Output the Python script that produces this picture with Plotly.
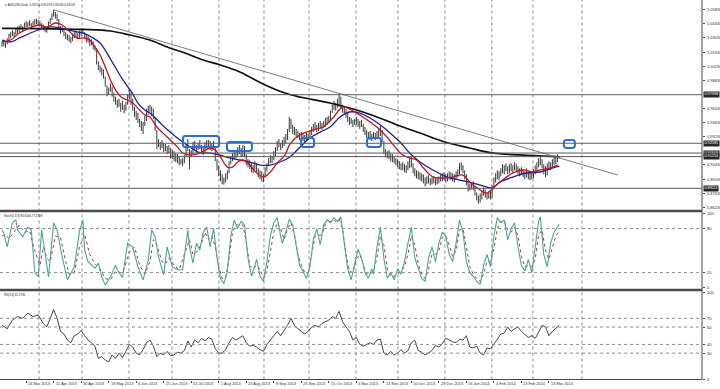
import plotly.graph_objects as go

# ---------------- data ----------------
highs = [
 1.0270,1.0285,1.0260,1.0300,1.0345,1.0360,1.0380,1.0365,1.0400,1.0415,
 1.0425,1.0440,1.0420,1.0455,1.0470,1.0460,1.0480,1.0450,1.0470,1.0490,
 1.0495,1.0480,1.0475,1.0450,1.0435,1.0420,1.0410,1.0465,1.0500,1.0545,
 1.0582,1.0560,1.0540,1.0490,1.0420,1.0420,1.0400,1.0360,1.0340,1.0330,
 1.0310,1.0345,1.0360,1.0370,1.0350,1.0375,1.0395,1.0400,1.0360,1.0340,
 1.0320,1.0300,1.0290,1.0270,1.0230,1.0200,1.0070,1.0030,1.0010,0.9990,
 0.9920,0.9830,0.9810,0.9850,0.9820,0.9760,0.9720,0.9690,0.9700,0.9660,
 0.9680,0.9640,0.9670,0.9740,0.9790,0.9760,0.9700,0.9620,0.9580,0.9560,
 0.9500,0.9480,0.9470,0.9530,0.9600,0.9630,0.9640,0.9620,0.9600,0.9520,
 0.9390,0.9300,0.9270,0.9290,0.9260,0.9250,0.9230,0.9240,0.9210,0.9190,
 0.9180,0.9160,0.9150,0.9120,0.9100,0.9110,0.9140,0.9240,0.9300,0.9200,
 0.9190,0.9270,0.9280,0.9240,0.9260,0.9290,0.9240,0.9220,0.9270,0.9290,
 0.9290,0.9280,0.9260,0.9280,0.9220,0.9100,0.9040,0.8990,0.8950,0.8920,
 0.8960,0.8990,0.9080,0.9130,0.9160,0.9170,0.9190,0.9220,0.9240,0.9210,
 0.9240,0.9230,0.9150,0.9100,0.9090,0.9060,0.9040,0.9080,0.9060,0.9010,
 0.8990,0.8980,0.8950,0.9020,0.9060,0.9110,0.9140,0.9130,0.9180,0.9220,
 0.9280,0.9300,0.9260,0.9290,0.9320,0.9350,0.9400,0.9520,0.9500,0.9440,
 0.9420,0.9400,0.9380,0.9360,0.9370,0.9350,0.9340,0.9360,0.9350,0.9390,
 0.9420,0.9450,0.9470,0.9440,0.9460,0.9480,0.9460,0.9480,0.9510,0.9520,
 0.9530,0.9580,0.9640,0.9680,0.9660,0.9700,0.9757,0.9720,0.9640,0.9620,
 0.9600,0.9560,0.9520,0.9510,0.9490,0.9500,0.9520,0.9500,0.9480,0.9490,
 0.9450,0.9420,0.9390,0.9370,0.9380,0.9350,0.9370,0.9360,0.9380,0.9400,
 0.9430,0.9390,0.9280,0.9200,0.9180,0.9190,0.9160,0.9150,0.9130,0.9110,
 0.9100,0.9080,0.9060,0.9070,0.9050,0.9040,0.9080,0.9110,0.9130,0.9060,
 0.9010,0.8990,0.8980,0.8970,0.8960,0.8950,0.8920,0.8930,0.8940,0.8910,
 0.8920,0.8930,0.8910,0.8920,0.8930,0.8950,0.8960,0.8970,0.8950,0.8960,
 0.8980,0.8970,0.8960,0.8950,0.8980,0.9000,0.9060,0.9070,0.9040,0.8990,
 0.8950,0.8870,0.8860,0.8870,0.8880,0.8830,0.8770,0.8740,0.8760,0.8790,
 0.8820,0.8800,0.8770,0.8780,0.8790,0.8840,0.8920,0.8960,0.8990,0.8980,
 0.9010,0.9050,0.9040,0.9060,0.9030,0.9050,0.9060,0.9040,0.9070,0.9050,
 0.9030,0.9010,0.9020,0.9000,0.8980,0.9010,0.8990,0.8970,0.8980,0.9000,
 0.9040,0.9070,0.9110,0.9120,0.9100,0.9050,0.9030,0.9060,0.9080,0.9070,
 0.9100,0.9120,0.9130,0.9150,0.9126]
lows = [
 1.0215,1.0220,1.0205,1.0240,1.0275,1.0300,1.0320,1.0310,1.0335,1.0350,
 1.0360,1.0385,1.0360,1.0390,1.0410,1.0405,1.0420,1.0395,1.0410,1.0430,
 1.0440,1.0425,1.0410,1.0395,1.0380,1.0360,1.0355,1.0390,1.0440,1.0480,
 1.0515,1.0495,1.0470,1.0400,1.0345,1.0360,1.0320,1.0290,1.0280,1.0265,
 1.0250,1.0270,1.0300,1.0310,1.0290,1.0300,1.0320,1.0340,1.0295,1.0260,
 1.0255,1.0220,1.0230,1.0190,1.0170,1.0040,0.9985,0.9960,0.9930,0.9900,
 0.9820,0.9725,0.9740,0.9770,0.9720,0.9670,0.9640,0.9610,0.9620,0.9570,
 0.9590,0.9555,0.9580,0.9640,0.9690,0.9640,0.9580,0.9520,0.9490,0.9460,
 0.9420,0.9380,0.9350,0.9430,0.9480,0.9540,0.9570,0.9530,0.9500,0.9380,
 0.9200,0.9220,0.9190,0.9210,0.9170,0.9180,0.9150,0.9160,0.9110,0.9100,
 0.9080,0.9070,0.9060,0.9040,0.9050,0.9030,0.9060,0.9120,0.9180,0.9000,
 0.9120,0.9150,0.9180,0.9160,0.9190,0.9200,0.9150,0.9140,0.9170,0.9210,
 0.9200,0.9190,0.9180,0.9200,0.9080,0.8990,0.8930,0.8880,0.8850,0.8848,
 0.8870,0.8900,0.8960,0.9050,0.9080,0.9090,0.9110,0.9130,0.9150,0.9120,
 0.9130,0.9120,0.9040,0.9020,0.9000,0.8970,0.8960,0.8990,0.8970,0.8920,
 0.8900,0.8880,0.8870,0.8920,0.8980,0.9030,0.9060,0.9060,0.9090,0.9130,
 0.9180,0.9220,0.9190,0.9210,0.9230,0.9260,0.9290,0.9370,0.9400,0.9350,
 0.9340,0.9320,0.9310,0.9290,0.9290,0.9280,0.9270,0.9280,0.9290,0.9310,
 0.9340,0.9370,0.9390,0.9370,0.9380,0.9400,0.9390,0.9410,0.9420,0.9440,
 0.9460,0.9480,0.9560,0.9590,0.9580,0.9610,0.9620,0.9600,0.9560,0.9540,
 0.9510,0.9470,0.9440,0.9450,0.9420,0.9440,0.9440,0.9420,0.9400,0.9420,
 0.9370,0.9340,0.9310,0.9300,0.9290,0.9280,0.9300,0.9290,0.9300,0.9310,
 0.9330,0.9270,0.9150,0.9120,0.9110,0.9100,0.9080,0.9070,0.9060,0.9040,
 0.9020,0.9000,0.8990,0.8990,0.8970,0.8960,0.8990,0.9010,0.9020,0.8960,
 0.8930,0.8910,0.8900,0.8890,0.8880,0.8860,0.8830,0.8850,0.8860,0.8840,
 0.8850,0.8860,0.8840,0.8850,0.8860,0.8880,0.8880,0.8890,0.8870,0.8880,
 0.8900,0.8890,0.8880,0.8870,0.8900,0.8920,0.8950,0.8990,0.8960,0.8900,
 0.8840,0.8780,0.8790,0.8800,0.8790,0.8740,0.8690,0.8660,0.8670,0.8700,
 0.8740,0.8720,0.8700,0.8710,0.8700,0.8720,0.8800,0.8870,0.8900,0.8890,
 0.8930,0.8960,0.8950,0.8980,0.8950,0.8960,0.8980,0.8960,0.8990,0.8980,
 0.8950,0.8930,0.8950,0.8920,0.8900,0.8920,0.8900,0.8890,0.8900,0.8910,
 0.8950,0.8980,0.9020,0.9040,0.9010,0.8950,0.8920,0.8940,0.8990,0.8990,
 0.9020,0.9040,0.9050,0.9070,0.9106]

# moving averages, read as (bar, price) vertices
red_bars = [0,5,10,16,22,26,31,35,39.5,43.6,48,51,54,57,60,63,66,70,73,76,80,83,86,90,96,102,105,109,115,121,124,127,131,134,137,140,143,148,152,156,160,164.5,167.4,173,181,186.6,192.4,198,202,208,214,218.6,223.8,228.5,233,237,241,246,250.6,256.4,262,268,272,278,282,285.5,291,297,303,309,313,318.6,323]
red_vals = [1.0263,1.0282,1.0352,1.0401,1.0431,1.0411,1.0451,1.0431,1.0362,1.0302,1.0302,1.0282,1.0213,1.0134,1.0015,0.9886,0.9786,0.9707,0.9687,0.9657,0.9588,0.9540,0.9518,0.9419,0.9320,0.9220,0.9161,0.9141,0.9161,0.9211,0.9191,0.9122,0.9022,0.9022,0.9072,0.9092,0.9062,0.8963,0.8923,0.8973,0.9062,0.9141,0.9250,0.9340,0.9390,0.9419,0.9509,0.9617,0.9598,0.9538,0.9469,0.9409,0.9320,0.9220,0.9141,0.9111,0.9092,0.8993,0.8923,0.8913,0.8923,0.8943,0.8873,0.8794,0.8764,0.8814,0.8893,0.8963,0.8993,0.8973,0.8993,0.9012,0.9042]
blue_bars = [0,5,10,18,24,31,38,43.6,47,53,57,61,65.7,70.3,75.6,79,83,86,92,97.7,103.5,109.3,114,121,126.7,132.6,138.4,144,150,155.8,161.6,167.4,173.3,179,185,190.7,196.5,202,208,214,220,225.6,231.4,237,243,250.6,258.7,266,273.8,282,285,289.5,297,305,312.8,320,324]
blue_vals = [1.0282,1.0263,1.0302,1.0362,1.0401,1.0411,1.0382,1.0362,1.0352,1.0302,1.0253,1.0153,1.0015,0.9886,0.9757,0.9657,0.9588,0.9558,0.9459,0.9370,0.9290,0.9221,0.9171,0.9161,0.9141,0.9112,0.9092,0.9072,0.9042,0.9042,0.9072,0.9122,0.9221,0.9310,0.9369,0.9419,0.9518,0.9568,0.9558,0.9509,0.9439,0.9360,0.9270,0.9161,0.9072,0.8993,0.8923,0.8893,0.8863,0.8824,0.8814,0.8873,0.8923,0.8963,0.8973,0.9012,0.9032]
black_bars = [0,22,47,63,74.4,86,96,106.4,117,127,138.3,144,153,164.5,173.2,190.7,209.8,225.5,231.4,243,257.5,272,285,301,320,324]
black_vals = [1.0398,1.0396,1.0387,1.0372,1.0332,1.0282,1.0213,1.0153,1.0084,1.0034,0.9965,0.9915,0.9836,0.9756,0.9717,0.9657,0.9568,0.9469,0.9429,0.9360,0.9271,0.9211,0.9162,0.9142,0.9127,0.9122]

# trend line end points (bar, price)
trend_bars = [30, 358]
trend_prices = [1.0582, 0.8943]

# horizontal support/resistance levels
level_prices = [0.97398, 0.92581, 0.91609, 0.91254, 0.88111]

# highlighted zones: (bar0, bar1, price_low, price_high)
zones = [(105.2, 126.2, 0.9220, 0.9330), (130.8, 145.3, 0.9181, 0.9271),
         (173.8, 181.4, 0.9220, 0.9310), (212.2, 220.3, 0.9220, 0.9310),
         (326.7, 333.1, 0.9211, 0.9290)]

# Stochastic (5,3,3) main and signal, (bar, value) vertices
stoch_main_bars = [0,1,3,6,8,9,12,15,17,19,21,23,25,27,30,32,35,37,38,42,45,47,48,50,54,56,58,60,63,66,67,70,73,76,79,82,85,87,89,91,94,96,99,102,105,108,109,111,113,115,117,119,121,123,125,127,129,131,133,135,137,139,141,143,145,147,148,150,152,154,156,158,160,162,163,165,167,169,171,173,175,177,179,181,183,185,187,189,191,193,195,197,199,201,203,205,207,209,211,213,215,216,218,220,222,224,226,228,230,232,234,236,238,240,242,244,246,248,250,252,254,256,258,260,262,264,266,268,270,272,274,276,278,280,282,284,286,288,290,292,294,296,298,300,302,304,306,308,310,312,313,315,317,319,321,323,324]
stoch_main_vals = [78,74,55,88,92,78,69,82,78,21,14,78,47,14,88,78,41,19,10,28,76,92,51,35,26,33,14,3,14,30,24,13,60,55,28,10,37,78,69,41,17,55,28,24,24,78,55,33,60,51,75,82,55,80,40,12,5,22,70,92,80,90,85,40,15,30,38,15,8,35,70,88,95,70,60,75,93,85,55,30,22,12,28,65,80,58,85,92,88,95,90,96,60,25,10,30,52,40,20,12,25,18,55,82,40,12,20,10,25,18,35,60,82,40,25,12,8,40,55,35,60,75,70,45,35,60,92,75,35,20,15,8,4,30,45,28,70,95,88,92,65,80,88,55,30,22,38,20,55,90,96,45,28,60,75,82,85.66]
stoch_sig_bars = [0,2,4,7,10,13,16,19,22,24,26,28,31,34,37,39,42,45,48,51,54,57,60,63,66,69,71,74,77,80,83,86,88,90,93,95,97,100,103,106,109,111,114,116,118,120,122,124,126,128,130,132,134,136,138,140,142,144,146,148,150,152,154,156,158,160,162,164,166,168,170,172,174,176,178,180,182,184,186,188,190,192,194,196,198,200,202,204,206,208,210,212,214,216,218,220,222,224,226,228,230,232,234,236,238,240,242,244,246,248,250,252,254,256,258,260,262,264,266,268,270,272,274,276,278,280,282,284,286,288,290,292,294,296,298,300,302,304,306,308,310,312,314,316,318,320,322,324]
stoch_sig_vals = [70,72,66,75,85,75,77,50,30,55,40,35,70,68,35,18,20,55,72,45,32,25,12,10,22,20,25,48,55,30,18,35,65,58,35,32,40,30,24,45,65,45,50,60,75,65,70,55,28,12,12,40,75,85,85,85,62,30,25,30,25,12,22,50,75,88,80,65,80,88,72,45,30,20,20,45,70,70,72,86,88,92,90,93,80,45,22,20,38,45,30,18,18,22,40,70,58,25,15,15,18,22,28,45,70,58,32,18,12,25,45,45,50,68,70,58,42,50,78,80,55,28,18,12,8,18,35,35,52,80,90,90,78,75,82,70,42,28,30,28,38,72,78,50,38,55,70,77.27]

# RSI(14), (bar, value) vertices
rsi_bars = [0,3,6,9,12,15,18,21,24,26,28,30,32,34,36,38,40,42,44,46,48,50,52,54,56,58,60,62,64,66,68,70,72,74,76,78,80,82,84,86,88,90,92,94,96,98,100,102,104,106,108,110,112,114,116,118,120,122,124,126,128,130,132,134,136,138,140,142,144,146,148,150,152,154,156,158,160,162,164,166,168,170,172,174,176,178,180,182,184,186,188,190,192,194,196,198,200,202,204,206,208,210,212,214,216,218,220,222,224,226,228,230,232,234,236,238,240,242,244,246,248,250,252,254,256,258,260,262,264,266,268,270,272,274,276,278,280,282,284,286,288,290,292,294,296,298,300,302,304,306,308,310,312,314,316,318,320,322,324]
rsi_vals = [62,58,68,72,70,76,72,74,64,60,70,80,70,55,52,45,42,50,52,56,50,45,42,38,24,26,22,20,28,24,30,25,32,40,37,30,28,34,42,45,38,26,30,28,32,27,28,31,30,33,44,37,45,42,47,44,48,46,35,30,30,34,42,48,45,48,50,42,38,39,37,34,32,40,45,50,55,50,56,62,70,62,58,55,52,55,60,62,60,64,66,68,72,70,78,66,60,55,45,48,40,38,40,42,40,45,46,30,28,32,28,30,34,30,33,42,45,33,31,28,30,33,39,37,41,47,45,43,42,46,45,50,37,36,38,30,28,36,35,40,46,52,53,60,55,58,60,55,52,48,50,47,54,62,60,50,55,58,62,61.27]

# axis / label values
price_ticks = [1.0583, 1.0443, 1.0303, 1.0163, 1.0023, 0.9883, 0.9603, 0.9463, 0.9323, 0.9043, 0.8903, 0.8763, 0.8623]
stoch_ticks = [0, 20, 80, 100]
stoch_levels = [20, 80]
rsi_ticks = [0, 30, 40, 60, 70, 100]
rsi_levels = [30, 40, 60, 70]
date_labels = ["6 Mar 2013", "24 Mar 2013", "11 Apr 2013", "30 Apr 2013", "19 May 2013", "6 Jun 2013",
               "25 Jun 2013", "14 Jul 2013", "1 Aug 2013", "20 Aug 2013", "8 Sep 2013", "26 Sep 2013",
               "15 Oct 2013", "3 Nov 2013", "21 Nov 2013", "10 Dec 2013", "29 Dec 2013", "16 Jan 2014",
               "4 Feb 2014", "23 Feb 2014", "13 Mar 2014"]
date_label_bars = [-2, 14, 30, 46, 62, 78, 94, 110, 126, 142, 158, 174, 190, 206, 222, 238, 254, 270, 286, 302, 318]
month_grid_bars = [21.5, 46.5, 73.8, 98.8, 126.1, 152.3, 178.5, 205.8, 230.2, 257.5, 284.8, 308.7, 337.2]
header_text = "AUDUSD,Daily  0.91156 0.91259 0.91056 0.91159"
stoch_text = "Stoch(5,3,3) 85.6566 77.2739"
rsi_text = "RSI(14) 61.2730"

# ---------------- figure ----------------
H = 389.0
def fy(px):
    return 1 - px / H

XR = [-1.2, 407.0]
XD = [0, 0.975]
MAIN = [fy(210.5), 1.0]
STO = [fy(288), fy(212)]
RSI = [fy(379.5), fy(291)]
FONT = "Liberation Sans"
TXT = "#303030"

fig = go.Figure()

bx, by = [], []
for i, (h, l) in enumerate(zip(highs, lows)):
    bx += [i, i, None]
    by += [l, h, None]
fig.add_trace(go.Scatter(x=bx, y=by, mode="lines", line=dict(color="#3a3a3a", width=1),
                         xaxis="x", yaxis="y", hoverinfo="skip"))
fig.add_trace(go.Scatter(x=black_bars, y=black_vals, mode="lines", line=dict(color="#111111", width=1.7, shape="spline"),
                         xaxis="x", yaxis="y"))
fig.add_trace(go.Scatter(x=blue_bars, y=blue_vals, mode="lines", line=dict(color="#1f1fa0", width=1.3, shape="spline"),
                         xaxis="x", yaxis="y"))
fig.add_trace(go.Scatter(x=red_bars, y=red_vals, mode="lines", line=dict(color="#c81414", width=1.3, shape="spline"),
                         xaxis="x", yaxis="y"))
fig.add_trace(go.Scatter(x=trend_bars, y=trend_prices, mode="lines", line=dict(color="#7c7c7c", width=1),
                         xaxis="x", yaxis="y"))

fig.add_trace(go.Scatter(x=stoch_sig_bars, y=stoch_sig_vals, mode="lines",
                         line=dict(color="#b23a3a", width=1, dash="dot"), xaxis="x2", yaxis="y2"))
fig.add_trace(go.Scatter(x=stoch_main_bars, y=stoch_main_vals, mode="lines",
                         line=dict(color="#4aa79b", width=1.1), xaxis="x2", yaxis="y2"))
fig.add_trace(go.Scatter(x=rsi_bars, y=rsi_vals, mode="lines",
                         line=dict(color="#333333", width=0.9), xaxis="x3", yaxis="y3"))

shapes = []
for g in month_grid_bars:
    shapes.append(dict(type="line", xref="x", yref="paper", x0=g, x1=g, y0=RSI[0], y1=1,
                       line=dict(color="#8c8c8c", width=1, dash="dot"), layer="below"))
for p in level_prices:
    shapes.append(dict(type="line", xref="paper", yref="y", x0=0, x1=XD[1], y0=p, y1=p,
                       line=dict(color="#5a5a5a", width=1)))
for v in stoch_levels:
    shapes.append(dict(type="line", xref="paper", yref="y2", x0=0, x1=XD[1], y0=v, y1=v,
                       line=dict(color="#8c8c8c", width=1, dash="dot")))
for v in rsi_levels:
    shapes.append(dict(type="line", xref="paper", yref="y3", x0=0, x1=XD[1], y0=v, y1=v,
                       line=dict(color="#8c8c8c", width=1, dash="dot")))
rx, ry = 1.6, 0.0024
for (a, b, lo, hi) in zones:
    path = (f"M {a+rx},{hi} L {b-rx},{hi} Q {b},{hi} {b},{hi-ry} L {b},{lo+ry} Q {b},{lo} {b-rx},{lo} "
            f"L {a+rx},{lo} Q {a},{lo} {a},{lo+ry} L {a},{hi-ry} Q {a},{hi} {a+rx},{hi} Z")
    shapes.append(dict(type="path", xref="x", yref="y", path=path, line=dict(color="#2b6fd6", width=2)))
for sep in [fy(211), fy(290)]:
    shapes.append(dict(type="line", xref="paper", yref="paper", x0=0, x1=XD[1], y0=sep, y1=sep,
                       line=dict(color="#4a4a4a", width=2.5)))
shapes.append(dict(type="line", xref="paper", yref="paper", x0=0, x1=XD[1], y0=RSI[0], y1=RSI[0],
                   line=dict(color="#4a4a4a", width=1)))
shapes.append(dict(type="line", xref="paper", yref="paper", x0=XD[1], x1=XD[1], y0=RSI[0], y1=1,
                   line=dict(color="#4a4a4a", width=1)))

ann = []
ann.append(dict(xref="paper", yref="paper", x=0.004, y=fy(5), xanchor="left", yanchor="middle",
                text="▾ " + header_text, showarrow=False, font=dict(family=FONT, size=3.0, color="#222")))
ann.append(dict(xref="paper", yref="paper", x=0.003, y=fy(216), xanchor="left", yanchor="middle",
                text=stoch_text, showarrow=False, font=dict(family=FONT, size=2.9, color="#222")))
ann.append(dict(xref="paper", yref="paper", x=0.003, y=fy(294.5), xanchor="left", yanchor="middle",
                text=rsi_text, showarrow=False, font=dict(family=FONT, size=2.9, color="#222")))
for lab, b in zip(date_labels, date_label_bars):
    ann.append(dict(xref="x3", yref="paper", x=b, y=fy(383.5), xanchor="left", yanchor="middle",
                    text=lab, showarrow=False, font=dict(family=FONT, size=3.9, color=TXT)))
XL = XD[1] + 0.0035
for t in price_ticks:
    ann.append(dict(xref="paper", yref="y", x=XL, y=t, xanchor="left", yanchor="middle",
                    text=f"{t:.5f}", showarrow=False, font=dict(family=FONT, size=4.0, color=TXT)))
for t in stoch_ticks:
    ann.append(dict(xref="paper", yref="y2", x=XL, y=t, xanchor="left", yanchor="middle",
                    text=str(t), showarrow=False, font=dict(family=FONT, size=4.0, color=TXT)))
for t in rsi_ticks:
    ann.append(dict(xref="paper", yref="y3", x=XL, y=t, xanchor="left", yanchor="middle",
                    text=str(t), showarrow=False, font=dict(family=FONT, size=4.0, color=TXT)))
for p in level_prices:
    ann.append(dict(xref="paper", yref="y", x=XD[1] + 0.002, y=p, xanchor="left", yanchor="middle",
                    text=f"{p:.5f}", showarrow=False, bgcolor="#262626", borderpad=0.4,
                    font=dict(family=FONT, size=3.8, color="#ffffff")))

common_x = dict(range=XR, domain=XD, showgrid=False, zeroline=False, showline=False, fixedrange=True)
common_y = dict(side="right", ticks="outside", ticklen=2, tickcolor="#4a4a4a", showticklabels=False,
                showgrid=False, zeroline=False, showline=False, tickmode="array")
layout = dict(
    width=720, height=389, margin=dict(l=0, r=0, t=0, b=0),
    paper_bgcolor="#ffffff", plot_bgcolor="#ffffff", showlegend=False, hovermode=False,
    xaxis=dict(**common_x, anchor="y", showticklabels=False, ticks=""),
    xaxis2=dict(**common_x, anchor="y2", matches="x", showticklabels=False, ticks=""),
    xaxis3=dict(**common_x, anchor="y3", matches="x", showticklabels=False,
                tickmode="array", tickvals=date_label_bars, ticks="outside", ticklen=2, tickcolor="#4a4a4a"),
    yaxis=dict(**common_y, domain=MAIN, anchor="x", range=[0.85910, 1.06792], tickvals=price_ticks),
    yaxis2=dict(**common_y, domain=STO, anchor="x2", range=[-0.95, 102.7], tickvals=stoch_ticks),
    yaxis3=dict(**common_y, domain=RSI, anchor="x3", range=[-0.3, 101.4], tickvals=rsi_ticks),
    shapes=shapes, annotations=ann,
)
fig.update_layout(**layout)
fig.write_html("out.html", config={"displayModeBar": False, "staticPlot": True},
               post_script="document.body.style.margin='0';document.body.style.overflow='hidden';")
